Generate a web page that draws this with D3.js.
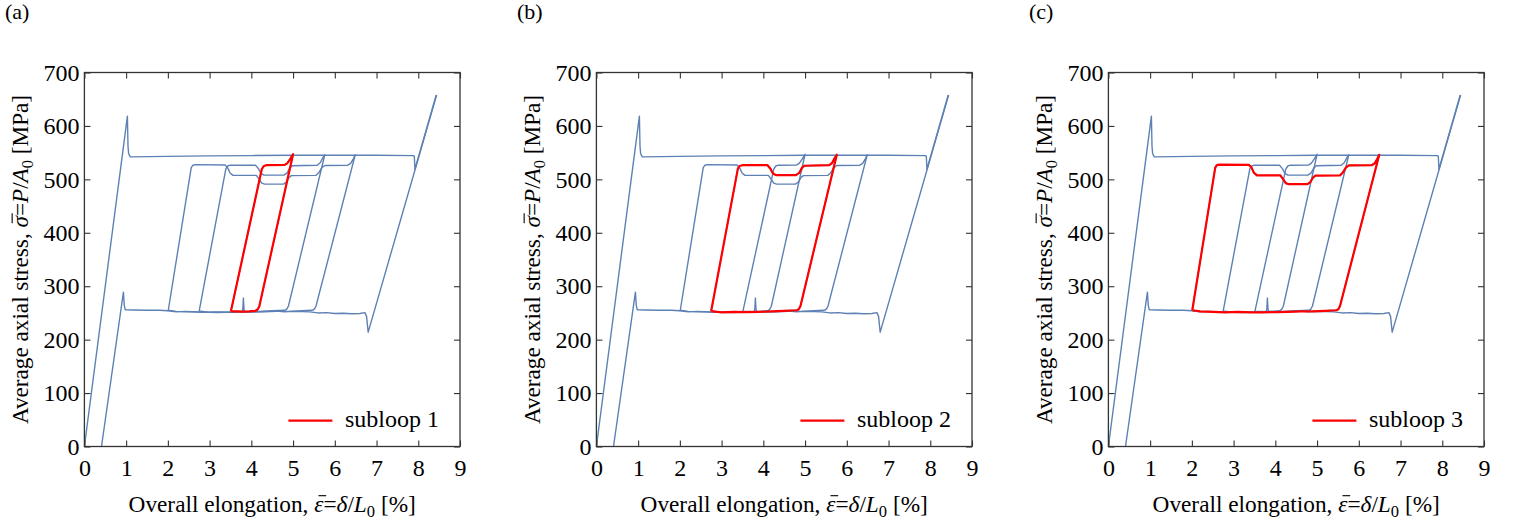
<!DOCTYPE html>
<html><head><meta charset="utf-8">
<script src="https://cdn.jsdelivr.net/npm/d3@7"></script>
<style>
html,body{margin:0;padding:0;background:#fff;}
svg{display:block;}
</style></head>
<body>
<svg id="chart" width="1520" height="525"></svg>
<script>
// ---------------- data ----------------
const xTicks = [0,1,2,3,4,5,6,7,8,9];
const yTicks = [0,100,200,300,400,500,600,700];
const panelLabels = ["(a)","(b)","(c)"];
const legendLabels = ["subloop 1","subloop 2","subloop 3"];

// outer loading branch [elongation %, stress MPa]
const outerLoading = [[0,0],[1.03,618],[1.045,562],[1.06,548],[1.10,542],[2.0,543],[3.0,544],[4.0,544.5],[5.0,545],[6.0,545],[7.0,545],[7.88,544.5],[7.905,543],[7.92,519],[8.43,658]];
// outer unloading branch
const outerUnloading = [[8.44,658],[6.80,214],[6.76,244],[6.72,250.5],[6.60,249],[6.40,248.5],[6.20,249.5],[6.00,249],[5.80,250.5],[5.60,250],[5.40,252],[5.20,252.5],[5.00,253],[4.80,252],[4.60,253.5],[4.40,253],[4.20,252.5],[4.00,253],[3.84,253],[3.825,256],[3.81,278],[3.795,256],[3.78,253],[3.60,252],[3.40,251],[3.20,250.5],[3.00,251],[2.80,252],[2.60,252.5],[2.40,253],[2.20,252],[2.00,254],[1.80,255],[1.50,255],[1.20,255.5],[0.98,256],[0.955,264],[0.935,289],[0.41,0]];
// internal subloops
const subloop1 = [[3.51,253],[4.25,519],[4.30,525],[4.36,526.5],[4.80,527],[4.86,530],[4.93,538],[5.00,547],[4.19,262],[4.15,256.5],[4.10,254],[3.95,253],[3.80,252.5],[3.65,253],[3.51,253]];
const subloop2 = [[2.75,253.5],[3.39,520],[3.43,525],[3.50,526.5],[4.10,526.5],[4.17,520],[4.23,511],[4.30,508],[4.78,508],[4.86,512],[4.92,521],[4.98,525.5],[5.58,526.5],[5.65,531],[5.71,540],[5.76,546],[4.89,263],[4.85,257],[4.80,255],[4.50,254],[4.20,253],[3.90,252],[3.60,251.5],[3.30,252],[3.00,251],[2.75,253.5]];
const subloop3 = [[2.01,255],[2.56,522],[2.60,526.5],[2.66,527.5],[3.37,527],[3.43,522],[3.49,512],[3.56,507.5],[4.12,507.5],[4.19,500],[4.25,493],[4.32,491],[4.77,491],[4.84,495],[4.90,503],[4.96,507],[5.55,507.5],[5.62,513],[5.69,522],[5.76,526],[6.31,526.5],[6.38,530],[6.44,538],[6.49,546],[5.55,263],[5.51,257],[5.46,255],[5.20,254],[4.90,253],[4.60,253],[4.30,252],[4.00,251.5],[3.70,251],[3.40,251],[3.10,252],[2.80,251],[2.50,252],[2.20,253],[2.01,255]];

const bluePaths = [outerLoading, outerUnloading, subloop1, subloop2, subloop3];
const redPaths = [subloop1, subloop2, subloop3];

// ---------------- layout ----------------
const FONT = '"Liberation Serif"';
const panelLeft = [84.4, 596.4, 1108.4];
const plotW = 375.6, plotTop = 72.5, plotBottom = 446.5;
const BLUE = "#5E81B5", RED = "#FF0000";
const svg = d3.select("#chart").style("font-family", FONT);

// draws an overbar above character index `idx` of a text element (in its own coordinates)
function overbar(group, textSel, idx, fs) {
  const node = textSel.node();
  let r;
  try { r = node.getExtentOfChar(idx); } catch (e) { return; }
  const yb = -0.70 * fs;
  group.append("line")
    .attr("x1", r.x + 0.18 * fs).attr("x2", r.x + r.width + 0.12 * fs)
    .attr("y1", yb).attr("y2", yb)
    .attr("stroke", "#000").attr("stroke-width", 1.1);
}

panelLeft.forEach((left, i) => {
  const x = d3.scaleLinear().domain([0, 9]).range([left, left + plotW]);
  const y = d3.scaleLinear().domain([0, 700]).range([plotBottom, plotTop]);
  const g = svg.append("g");

  const clipId = "clip" + i;
  svg.append("clipPath").attr("id", clipId).append("rect")
    .attr("x", left).attr("y", plotTop).attr("width", plotW).attr("height", plotBottom - plotTop);

  const line = d3.line().x(d => x(d[0])).y(d => y(d[1]));
  const plot = g.append("g").attr("clip-path", `url(#${clipId})`);
  bluePaths.forEach(p => plot.append("path").attr("d", line(p))
    .attr("fill", "none").attr("stroke", BLUE).attr("stroke-width", 1.4).attr("stroke-linejoin", "round"));
  plot.append("path").attr("d", line(redPaths[i]))
    .attr("fill", "none").attr("stroke", RED).attr("stroke-width", 2.2).attr("stroke-linejoin", "round");

  // axes (inward ticks on all sides)
  const tl = 6;
  const axB = d3.axisBottom(x).tickValues(xTicks).tickSize(-tl).tickPadding(12).tickFormat(d3.format("d"));
  const axT = d3.axisTop(x).tickValues(xTicks).tickSize(-tl).tickFormat("");
  const axL = d3.axisLeft(y).tickValues(yTicks).tickSize(-tl).tickPadding(5).tickFormat(d3.format("d"));
  const axR = d3.axisRight(y).tickValues(yTicks).tickSize(-tl).tickFormat("");
  const gb = g.append("g").attr("transform", `translate(0,${plotBottom})`).call(axB);
  const gt = g.append("g").attr("transform", `translate(0,${plotTop})`).call(axT);
  const gl = g.append("g").attr("transform", `translate(${left},0)`).call(axL);
  const gr = g.append("g").attr("transform", `translate(${left + plotW},0)`).call(axR);
  [gb, gt, gl, gr].forEach(a => {
    a.attr("font-family", null).attr("font-size", null);
    a.select(".domain").remove();
    a.selectAll(".tick line").attr("stroke", "#333").attr("stroke-width", 1.1);
    a.selectAll("text").style("font-family", FONT).style("font-size", "24px").attr("fill", "#000");
  });
  gb.selectAll("text").attr("dy", "0.71em");

  g.append("rect").attr("x", left).attr("y", plotTop).attr("width", plotW).attr("height", plotBottom - plotTop)
    .attr("fill", "none").attr("stroke", "#333").attr("stroke-width", 1.3);

  // legend
  g.append("line").attr("x1", left + 204).attr("x2", left + 248).attr("y1", 420.7).attr("y2", 420.7)
    .attr("stroke", RED).attr("stroke-width", 2.2);
  g.append("text").attr("x", left + 260.5).attr("y", 427).style("font-family", FONT).style("font-size", "24px").text(legendLabels[i]);

  // x title
  const fsx = 23.3;
  const gx = g.append("g").attr("transform", `translate(${left + plotW / 2},512)`);
  const xt = gx.append("text").attr("x", 0).attr("y", 0).attr("text-anchor", "middle")
    .style("font-family", FONT).style("font-size", fsx + "px");
  const xPre = "Overall elongation, ";
  xt.append("tspan").text(xPre);
  xt.append("tspan").style("font-style", "italic").text("ε");
  xt.append("tspan").text("=");
  xt.append("tspan").style("font-style", "italic").text("δ");
  xt.append("tspan").text("/");
  xt.append("tspan").style("font-style", "italic").text("L");
  xt.append("tspan").style("font-size", "16.5px").attr("dy", 5).text("0");
  xt.append("tspan").attr("dy", -5).text(" [%]");
  overbar(gx, xt, xPre.length, fsx);

  // y title
  const fsy = 23.2;
  const cy = (plotTop + plotBottom) / 2;
  const gy = g.append("g").attr("transform", `translate(${left - 56},${cy}) rotate(-90)`);
  const yt = gy.append("text").attr("x", 0).attr("y", 0)
    .attr("text-anchor", "middle").style("font-family", FONT).style("font-size", fsy + "px");
  const yPre = "Average axial stress, ";
  yt.append("tspan").text(yPre);
  yt.append("tspan").style("font-style", "italic").text("σ");
  yt.append("tspan").text("=");
  yt.append("tspan").style("font-style", "italic").text("P");
  yt.append("tspan").text("/");
  yt.append("tspan").style("font-style", "italic").text("A");
  yt.append("tspan").style("font-size", "16.5px").attr("dy", 5).text("0");
  yt.append("tspan").attr("dy", -5).text(" [MPa]");
  overbar(gy, yt, yPre.length, fsy);

  // panel label
  g.append("text").attr("x", left - 79.5).attr("y", 19).style("font-family", FONT).style("font-size", "22px").text(panelLabels[i]);
});
</script>
</body></html>
